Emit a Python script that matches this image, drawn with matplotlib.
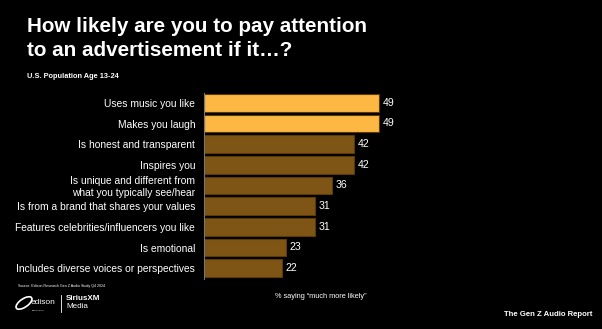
import matplotlib.pyplot as plt
from matplotlib.patches import Ellipse

plt.rcParams['font.family'] = ['Liberation Sans', 'DejaVu Sans']

# Survey data
categories = [
    "Uses music you like",
    "Makes you laugh",
    "Is honest and transparent",
    "Inspires you",
    "Is unique and different from\nwhat you typically see/hear",
    "Is from a brand that shares your values",
    "Features celebrities/influencers you like",
    "Is emotional",
    "Includes diverse voices or perspectives",
]
values = [49, 49, 42, 42, 36, 31, 31, 23, 22]
highlight = [True, True, False, False, False, False, False, False, False]

gold = "#FDB843"
brown = "#7E5514"
edge = "#5A3A08"

W, H = 602, 329
fig = plt.figure(figsize=(W / 100, H / 100), dpi=100, facecolor="black")

# Axes placed in pixel units: zero line at x=203.5, rows from y=93 to 278
ax_left, ax_right = 203.5, 560
ax_top, ax_bottom = 92.5, 278.5
ax = fig.add_axes([ax_left / W, 1 - ax_bottom / H, (ax_right - ax_left) / W, (ax_bottom - ax_top) / H])
ax.set_facecolor("black")

px_per_unit = (379 - ax_left) / 49
ax.set_xlim(0, (ax_right - ax_left) / px_per_unit)
ax.set_ylim(len(values) - 0.5, -0.5)

y = list(range(len(values)))
colors = [gold if h else brown for h in highlight]
ax.barh(y, values, height=0.84, color=colors, edgecolor=edge, linewidth=0.8)

for yi, v in zip(y, values):
    ax.text(v + 1.0, yi, str(v), color="white", fontsize=7.6, va="center", ha="left")

ax.set_yticks(y)
ax.set_yticklabels(categories, color="white", fontsize=7.4, linespacing=1.15)
ax.tick_params(axis="y", length=0, pad=6)
ax.set_xticks([])
for s in ["top", "right", "bottom"]:
    ax.spines[s].set_visible(False)
ax.spines["left"].set_color("#777777")
ax.spines["left"].set_linewidth(0.8)

# Title block
fig.text(27 / W, 1 - 16.5 / H, "How likely are you to pay attention\nto an advertisement if it\u2026?",
         color="white", fontsize=14.9, fontweight="bold", va="top", ha="left", linespacing=1.4)
fig.text(27 / W, 1 - 76 / H, "U.S. Population Age 13-24", color="white",
         fontsize=5.3, fontweight="bold", va="center", ha="left")

# Footer
fig.text(18 / W, 1 - 286 / H, "Source: Edison Research Gen Z Audio Study Q4 2024",
         color="white", fontsize=2.6, va="center", ha="left")
fig.text(321 / W, 1 - 296 / H, "% saying \u201cmuch more likely\u201d", color="white",
         fontsize=5.3, va="center", ha="center")
fig.text(592 / W, 1 - 315 / H, "The Gen Z Audio Report", color="white",
         fontsize=5.6, fontweight="bold", va="center", ha="right")

# Logos as text
fig.patches.append(Ellipse((24 / W, 1 - 303 / H), 11 / W, 14 / H, transform=fig.transFigure,
                           fill=False, edgecolor="white", linewidth=1.2, angle=-30))
fig.text(31 / W, 1 - 302 / H, "edison", color="white", fontsize=6.0, va="center", ha="left")
fig.text(32 / W, 1 - 310 / H, "RESEARCH", color="white", fontsize=1.6, va="center", ha="left")
fig.add_artist(plt.Line2D([61 / W, 61 / W], [1 - 295 / H, 1 - 312 / H], transform=fig.transFigure,
                          color="white", linewidth=0.6))
fig.text(66 / W, 1 - 298 / H, "SiriusXM", color="white", fontsize=5.8, fontweight="bold",
         va="center", ha="left")
fig.text(66 / W, 1 - 306 / H, "Media", color="white", fontsize=5.8, va="center", ha="left")

fig.savefig("out.png", dpi=100, facecolor="black")
